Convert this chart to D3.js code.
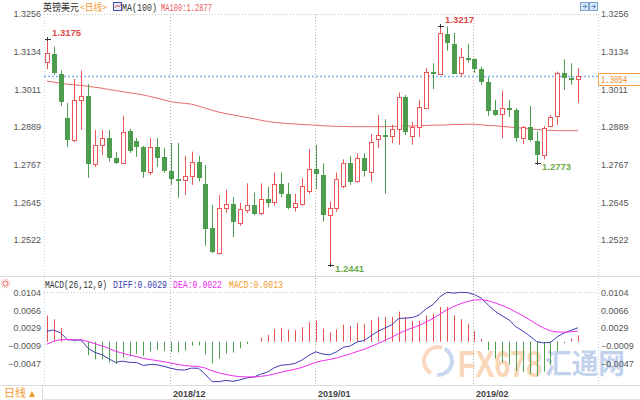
<!DOCTYPE html>
<html><head><meta charset="utf-8">
<script src="https://cdn.jsdelivr.net/npm/d3@7"></script>
<style>body{margin:0;background:#fff}svg{display:block}</style>
</head><body><svg id="c" width="640" height="400"></svg>
<script>
const dates = [
"2018-11-07","2018-11-08","2018-11-09","2018-11-12","2018-11-13","2018-11-14","2018-11-15","2018-11-16","2018-11-19","2018-11-20",
"2018-11-21","2018-11-22","2018-11-23","2018-11-26","2018-11-27","2018-11-28","2018-11-29","2018-11-30",
"2018-12-03","2018-12-04","2018-12-05","2018-12-06","2018-12-07","2018-12-10","2018-12-11","2018-12-12","2018-12-13","2018-12-14",
"2018-12-17","2018-12-18","2018-12-19","2018-12-20","2018-12-21","2018-12-24","2018-12-25","2018-12-26","2018-12-27","2018-12-28","2018-12-31",
"2019-01-01","2019-01-02","2019-01-03","2019-01-04","2019-01-07","2019-01-08","2019-01-09","2019-01-10","2019-01-11","2019-01-14",
"2019-01-15","2019-01-16","2019-01-17","2019-01-18","2019-01-21","2019-01-22","2019-01-23","2019-01-24","2019-01-25","2019-01-28",
"2019-01-29","2019-01-30","2019-01-31",
"2019-02-01","2019-02-04","2019-02-05","2019-02-06","2019-02-07","2019-02-08","2019-02-11","2019-02-12","2019-02-13","2019-02-14",
"2019-02-15","2019-02-18","2019-02-19","2019-02-20","2019-02-21","2019-02-22"];
const open = [1.3100,1.3125,1.3061,1.2918,1.2847,1.2977,1.2990,1.2769,1.2831,1.2853,
1.2788,1.2772,1.2876,1.2844,1.2824,1.2743,1.2824,1.2792,
1.2746,1.2720,1.2717,1.2730,1.2776,1.2704,1.2560,1.2479,1.2625,1.2639,1.2576,1.2622,1.2637,1.2607,1.2654,1.2647,1.2704,1.2672,1.2628,1.2641,1.2682,
1.2752,1.2733,1.2603,1.2625,1.2698,1.2773,1.2712,1.2787,1.2744,1.2849,1.2863,1.2858,1.2882,1.2986,1.2860,1.2888,1.2953,1.3069,1.3063,1.3191,
1.3159,1.3063,1.3114,
1.3109,1.3076,1.3036,1.2944,1.2931,1.2950,1.2944,1.2852,1.2888,1.2845,1.2798,1.2892,1.2922,1.3063,1.3047,1.3044];
const high = [1.3175,1.3150,1.3072,1.2967,1.3045,1.3072,1.3029,1.2879,1.2879,1.2879,
1.2808,1.2925,1.2883,1.2853,1.2827,1.2853,1.2853,1.2821,
1.2837,1.2837,1.2795,1.2809,1.2795,1.2766,1.2636,1.2668,1.2685,1.2661,1.2643,1.2706,1.2676,1.2706,1.2695,1.2741,1.2741,1.2708,1.2672,1.2723,1.2817,
1.2831,1.2771,1.2647,1.2741,1.2784,1.2795,1.2804,1.2804,1.2866,1.2928,1.2914,1.2896,1.3001,1.2993,1.2906,1.2977,1.3080,1.3096,1.3217,1.3215,
1.3195,1.3145,1.3159,
1.3112,1.3085,1.3050,1.2977,1.3007,1.2977,1.2950,1.2892,1.2957,1.2874,1.2892,1.2928,1.3069,1.3109,1.3096,1.3080];
const low = [1.3077,1.3058,1.2957,1.2824,1.2840,1.2879,1.2724,1.2759,1.2798,1.2776,
1.2769,1.2769,1.2805,1.2792,1.2724,1.2733,1.2759,1.2740,
1.2701,1.2659,1.2668,1.2701,1.2712,1.2503,1.2479,1.2474,1.2610,1.2531,1.2568,1.2609,1.2603,1.2603,1.2628,1.2633,1.2661,1.2622,1.2614,1.2633,1.2672,
1.2687,1.2582,1.2441,1.2614,1.2690,1.2701,1.2708,1.2728,1.2712,1.2820,1.2672,1.2836,1.2831,1.2863,1.2831,1.2856,1.2947,1.3012,1.3058,1.3137,
1.3061,1.3052,1.3098,
1.3065,1.3026,1.2925,1.2925,1.2852,1.2921,1.2841,1.2834,1.2841,1.2773,1.2784,1.2890,1.2896,1.3009,1.3026,1.2968];
const close = [1.3129,1.3063,1.2971,1.2847,1.2977,1.2990,1.2769,1.2831,1.2853,1.2788,
1.2772,1.2873,1.2811,1.2824,1.2743,1.2824,1.2788,1.2746,
1.2720,1.2714,1.2730,1.2776,1.2723,1.2557,1.2481,1.2625,1.2639,1.2582,1.2622,1.2637,1.2607,1.2654,1.2641,1.2704,1.2672,1.2628,1.2641,1.2698,1.2752,
1.2736,1.2603,1.2625,1.2719,1.2773,1.2712,1.2787,1.2744,1.2841,1.2863,1.2858,1.2882,1.2986,1.2871,1.2888,1.2953,1.3069,1.3063,1.3195,1.3161,
1.3063,1.3115,1.3107,
1.3076,1.3033,1.2942,1.2928,1.2950,1.2942,1.2852,1.2888,1.2845,1.2798,1.2885,1.2922,1.3063,1.3047,1.3042,1.3055];
const ma100 = [1.3038,1.3035,1.3031,1.3028,1.3026,1.3024,1.3021,1.3018,1.3015,1.3011,
1.3007,1.3004,1.3000,1.2997,1.2993,1.2988,1.2983,1.2977,
1.2971,1.2968,1.2966,1.2963,1.2957,1.2950,1.2943,1.2937,1.2932,1.2928,1.2924,1.2920,1.2916,1.2911,1.2907,1.2904,1.2902,1.2900,1.2899,1.2897,1.2896,
1.2895,1.2893,1.2892,1.2891,1.2891,1.2890,1.2890,1.2890,1.2890,1.2890,1.2890,1.2891,1.2891,1.2892,1.2892,1.2893,1.2894,1.2895,1.2895,1.2896,
1.2897,1.2897,1.2898,
1.2898,1.2896,1.2894,1.2893,1.2891,1.2889,1.2887,1.2885,1.2883,1.2881,1.2879,1.2878,1.2877,1.2877,1.2877,1.2877];
const diff = [0.00222,0.00246,0.00190,0.00044,0.00033,0.00035,-0.00140,-0.00227,-0.00274,-0.00360,
-0.00436,-0.00410,-0.00435,-0.00439,-0.00501,-0.00480,-0.00486,-0.00520,
-0.00561,-0.00592,-0.00597,-0.00557,-0.00561,-0.00691,-0.00845,-0.00841,-0.00817,-0.00835,-0.00807,-0.00764,-0.00746,-0.00685,-0.00641,-0.00548,-0.00495,-0.00483,-0.00458,-0.00387,-0.00284,
-0.00212,-0.00260,-0.00277,-0.00213,-0.00117,-0.00088,-0.00005,0.00025,0.00126,0.00221,0.00289,0.00358,0.00491,0.00498,0.00511,0.00567,0.00697,0.00786,0.00952,0.01044,
0.01026,0.01043,0.01037,
0.00996,0.00918,0.00775,0.00642,0.00548,0.00462,0.00317,0.00229,0.00124,0.00003,-0.00023,-0.00014,0.00106,0.00186,0.00243,0.00295];
const dea = [-0.00052,0.00008,0.00044,0.00044,0.00042,0.00041,0.00005,-0.00041,-0.00088,-0.00142,
-0.00201,-0.00243,-0.00281,-0.00313,-0.00351,-0.00377,-0.00399,-0.00423,
-0.00451,-0.00479,-0.00503,-0.00514,-0.00523,-0.00557,-0.00615,-0.00660,-0.00691,-0.00720,-0.00737,-0.00742,-0.00743,-0.00731,-0.00713,-0.00680,-0.00643,-0.00611,-0.00580,-0.00542,-0.00490,
-0.00434,-0.00399,-0.00375,-0.00343,-0.00298,-0.00256,-0.00206,-0.00160,-0.00103,-0.00038,0.00028,0.00094,0.00173,0.00238,0.00293,0.00348,0.00418,0.00492,0.00584,0.00676,
0.00746,0.00805,0.00851,
0.00880,0.00888,0.00865,0.00820,0.00766,0.00705,0.00627,0.00547,0.00463,0.00371,0.00292,0.00231,0.00206,0.00202,0.00210,0.00227];
const macd = [0.00548,0.00476,0.00292,0.00000,-0.00018,-0.00012,-0.00290,-0.00372,-0.00372,-0.00436,
-0.00470,-0.00334,-0.00308,-0.00252,-0.00300,-0.00206,-0.00174,-0.00194,
-0.00220,-0.00226,-0.00188,-0.00086,-0.00076,-0.00268,-0.00460,-0.00362,-0.00252,-0.00230,-0.00140,-0.00044,-0.00006,0.00092,0.00144,0.00264,0.00296,0.00256,0.00244,0.00310,0.00412,
0.00444,0.00278,0.00196,0.00260,0.00362,0.00336,0.00402,0.00370,0.00458,0.00518,0.00522,0.00528,0.00636,0.00520,0.00436,0.00438,0.00558,0.00588,0.00736,0.00736,
0.00560,0.00476,0.00372,
0.00232,0.00060,-0.00180,-0.00356,-0.00436,-0.00486,-0.00620,-0.00636,-0.00678,-0.00736,-0.00630,-0.00490,-0.00200,-0.00032,0.00066,0.00136];
const priceTicks = [1.3256,1.3134,1.3011,1.2889,1.2767,1.2645,1.2522];
const macdTicks = [0.0104,0.0066,0.0029,-0.0009,-0.0047];
const monthTicks = ["2018-12-03","2019-01-01","2019-02-01"];
const monthLabels = ["2018/12","2019/01","2019/02"];
const extremes = [
  {d:"2018-11-07", v:1.3175, kind:"high"},
  {d:"2019-01-25", v:1.3217, kind:"high"},
  {d:"2019-01-03", v:1.2441, kind:"low"},
  {d:"2019-02-14", v:1.2773, kind:"low"}];
const lastPrice = 1.3054;

const UP="#ec5656", DN="#4e9d4e", GRID="#c8c8c8";
const svg = d3.select("#c");
const font = "Liberation Sans, Arial, sans-serif";
const mono = "Liberation Mono, DejaVu Sans Mono, monospace";
const cjk = "Noto Sans CJK SC, sans-serif";

const x = d3.scalePoint().domain(dates).range([46.7, 578]);
const y = d3.scaleLinear().domain([1.2522, 1.3256]).range([240, 14]);
const ym = d3.scaleLinear().domain([-0.0047, 0.0104]).range([364, 292.5]);
const px = d => Math.round(x(d));

// frame lines
svg.append("line").attr("x1",0).attr("x2",640).attr("y1",276.5).attr("y2",276.5).attr("stroke","#dcdcdc");
svg.append("line").attr("x1",0).attr("x2",640).attr("y1",385.5).attr("y2",385.5).attr("stroke","#dcdcdc");
svg.append("line").attr("x1",0).attr("x2",640).attr("y1",399.5).attr("y2",399.5).attr("stroke","#e4e4e4");
[44.5, 598.5].forEach(xx => svg.append("line").attr("x1",xx).attr("x2",xx).attr("y1",14).attr("y2",385)
  .attr("stroke","#c9d3e0").attr("stroke-dasharray","1,2"));
svg.append("line").attr("x1",44).attr("x2",598).attr("y1",14.5).attr("y2",14.5).attr("stroke",GRID).attr("stroke-dasharray","1,2");
svg.append("line").attr("x1",44).attr("x2",598).attr("y1",292.5).attr("y2",292.5).attr("stroke",GRID).attr("stroke-dasharray","1,2");
monthTicks.forEach(d => svg.append("line").attr("x1",px(d)-0.5).attr("x2",px(d)-0.5).attr("y1",14).attr("y2",385)
  .attr("stroke","#b4b4b4").attr("stroke-dasharray","1,2"));

// watermark (behind marks)
const wm = svg.append("g").attr("opacity",0.42);
wm.append("path").attr("d",d3.arc()({innerRadius:12,outerRadius:16,startAngle:-2.6,endAngle:0.3})).attr("transform","translate(438,361)").attr("fill","#f5a26a");
wm.append("path").attr("d",d3.arc()({innerRadius:12,outerRadius:16,startAngle:0.5,endAngle:3.2})).attr("transform","translate(438,361)").attr("fill","#7fa4dc");
wm.append("text").attr("x",458).attr("y",377).attr("fill","#f5a05a").style("font-family",font).style("font-size","36px").style("font-weight","bold")
  .attr("textLength",84).attr("lengthAdjust","spacingAndGlyphs").text("FX678");
wm.append("text").attr("x",545).attr("y",374).attr("fill","#6e95d6").style("font-family",cjk).style("font-size","28px").style("font-weight","bold")
  .attr("textLength",80).attr("lengthAdjust","spacingAndGlyphs").text("汇通网");

// axes
function styleAxis(g){ g.select(".domain").remove(); g.selectAll("text").attr("fill","#555").style("font-family",font).style("font-size","9px"); }
svg.append("g").attr("transform","translate(44,0)")
  .call(d3.axisLeft(y).tickValues(priceTicks).tickFormat(d3.format(".4f")).tickSize(0).tickPadding(3)).call(styleAxis);
svg.append("g").attr("transform","translate(598,0)")
  .call(d3.axisRight(y).tickValues(priceTicks).tickFormat(d3.format(".4f")).tickSize(0).tickPadding(3)).call(styleAxis);
svg.append("g").attr("transform","translate(44,0)")
  .call(d3.axisLeft(ym).tickValues(macdTicks).tickFormat(d3.format(".4f")).tickSize(0).tickPadding(3)).call(styleAxis);
svg.append("g").attr("transform","translate(598,0)")
  .call(d3.axisRight(ym).tickValues(macdTicks).tickFormat(d3.format(".4f")).tickSize(0).tickPadding(3)).call(styleAxis);

// last price dotted line
svg.append("line").attr("x1",44).attr("x2",598).attr("y1",Math.round(y(lastPrice))+0.5).attr("y2",Math.round(y(lastPrice))+0.5)
  .attr("stroke","#7fb2f0").attr("stroke-width",1.4).attr("stroke-dasharray","2,2");

// MA100
svg.append("path").datum(dates).attr("fill","none").attr("stroke","#e56a6a").attr("stroke-width",1)
  .attr("d", d3.line().x(d=>x(d)).y((d,i)=>y(ma100[i])));

// candles
const cg = svg.append("g");
dates.forEach((d,i) => {
  const up = close[i] >= open[i];
  const col = up ? UP : DN;
  const cx = px(d);
  cg.append("line").attr("x1",cx+0.5).attr("x2",cx+0.5).attr("y1",y(high[i])).attr("y2",y(low[i])).attr("stroke",col);
  const top = y(Math.max(open[i],close[i])), bot = y(Math.min(open[i],close[i]));
  if (up) {
    cg.append("rect").attr("x",cx-1.5).attr("y",Math.round(top)+0.5).attr("width",4).attr("height",Math.max(1,Math.round(bot-top)))
      .attr("fill","#fff").attr("stroke",col);
  } else {
    cg.append("rect").attr("x",cx-2).attr("y",Math.round(top)).attr("width",5).attr("height",Math.max(1.5,Math.round(bot-top)))
      .attr("fill",col);
  }
});

// extremes annotations
extremes.forEach(e => {
  const cx = px(e.d), yy = Math.round(y(e.v));
  svg.append("line").attr("x1",cx-2).attr("x2",cx+4).attr("y1",yy+0.5).attr("y2",yy+0.5).attr("stroke","#333");
  svg.append("line").attr("x1",cx+0.5).attr("x2",cx+0.5).attr("y1",yy-2).attr("y2",yy+2).attr("stroke","#333");
  const hi = e.kind==="high";
  svg.append("text").attr("x",cx+5).attr("y", hi ? yy-3 : yy+7)
    .attr("fill", hi ? "#e04848" : "#6aaa4a").style("font-family",font).style("font-size","9.5px").style("font-weight","bold")
    .text(e.v.toFixed(4));
});

// last price label box
const ly = Math.round(y(lastPrice));
svg.append("rect").attr("x",598.5).attr("y",ly-2.5).attr("width",44).attr("height",12).attr("fill","#fff").attr("stroke","#f7a04a");
svg.append("text").attr("x",601).attr("y",ly+7).attr("fill","#f08a20").style("font-family",mono).style("font-size","10px")
  .attr("textLength",26).attr("lengthAdjust","spacingAndGlyphs").text(lastPrice.toFixed(4));

// MACD histogram
const z = ym(0);
svg.append("g").selectAll("line").data(dates).join("line")
  .attr("x1",d=>px(d)+0.5).attr("x2",d=>px(d)+0.5)
  .attr("y1",z).attr("y2",(d,i)=>ym(macd[i]))
  .attr("stroke",(d,i)=>macd[i]>=0? "#e85050":"#4ea04e");
svg.append("path").datum(dates).attr("fill","none").attr("stroke","#3c3cb0").attr("stroke-width",1)
  .attr("d", d3.line().x(d=>x(d)).y((d,i)=>ym(diff[i])));
svg.append("path").datum(dates).attr("fill","none").attr("stroke","#f02cf0").attr("stroke-width",1)
  .attr("d", d3.line().x(d=>x(d)).y((d,i)=>ym(dea[i])));

// titles
function txt(xx,yy,s,col,fam,size,len){ const t=svg.append("text").attr("x",xx).attr("y",yy).attr("fill",col)
  .style("font-family",fam).style("font-size",size+"px").text(s); if(len) t.attr("textLength",len).attr("lengthAdjust","spacingAndGlyphs"); return t; }
txt(43,11,"英镑美元","#333",cjk,10,36);
txt(80,11,"<日线>","#f39a2a",cjk,10,27);
svg.append("rect").attr("x",113.5).attr("y",2.5).attr("width",8).attr("height",8).attr("fill","#e8ecff").attr("stroke","#4a4aa8");
svg.append("path").attr("d","M115,8 L117,5 L119,7 L121,4").attr("fill","none").attr("stroke","#d33").attr("stroke-width",0.8);
txt(122,11,"MA(100)","#333",mono,10,35);
txt(161,11,"MA100:1.2877","#e85a5a",mono,10,51);
[580.5,589.5].forEach(xx=>{ svg.append("rect").attr("x",xx).attr("y",2.5).attr("width",8).attr("height",8).attr("fill","#dbe8f7").attr("stroke","#7aa6d6");
  svg.append("path").attr("d",`M${xx+2},${6.5} L${xx+6},${6.5} M${xx+4},${4.5} L${xx+6},${6.5} L${xx+4},${8.5}`).attr("stroke","#3a6fb0").attr("fill","none").attr("stroke-width",0.8); });

// MACD legend
txt(45,288,"MACD(26,12,9)","#333",mono,10,62);
txt(113,288,"DIFF:0.0029","#3c3cb0",mono,10,54);
txt(173,288,"DEA:0.0022","#f02cf0",mono,10,49);
txt(229,288,"MACD:0.0013","#f39a2a",mono,10,54);
svg.append("circle").attr("cx",5.5).attr("cy",283.5).attr("r",2.5).attr("fill","none").attr("stroke","#e55").attr("stroke-width",1);
svg.append("circle").attr("cx",5.5).attr("cy",283.5).attr("r",4.3).attr("fill","none").attr("stroke","#e55").attr("stroke-width",0.8).attr("stroke-dasharray","1,1.4");

// month labels
monthTicks.forEach((d,i)=> svg.append("text").attr("x",px(d)+2).attr("y",397).attr("fill","#444")
  .style("font-family",font).style("font-size","9px").style("font-weight","bold").text(monthLabels[i]));

// bottom-left button
svg.append("rect").attr("x",-1).attr("y",385.5).attr("width",43.5).attr("height",20).attr("fill","#fff").attr("stroke","#dcdcdc");
txt(4,397,"日线","#f39a2a",cjk,11,22);
svg.append("path").attr("d","M29,397 L32,391 L35,397 Z").attr("fill","#f39a2a");
</script></body></html>
